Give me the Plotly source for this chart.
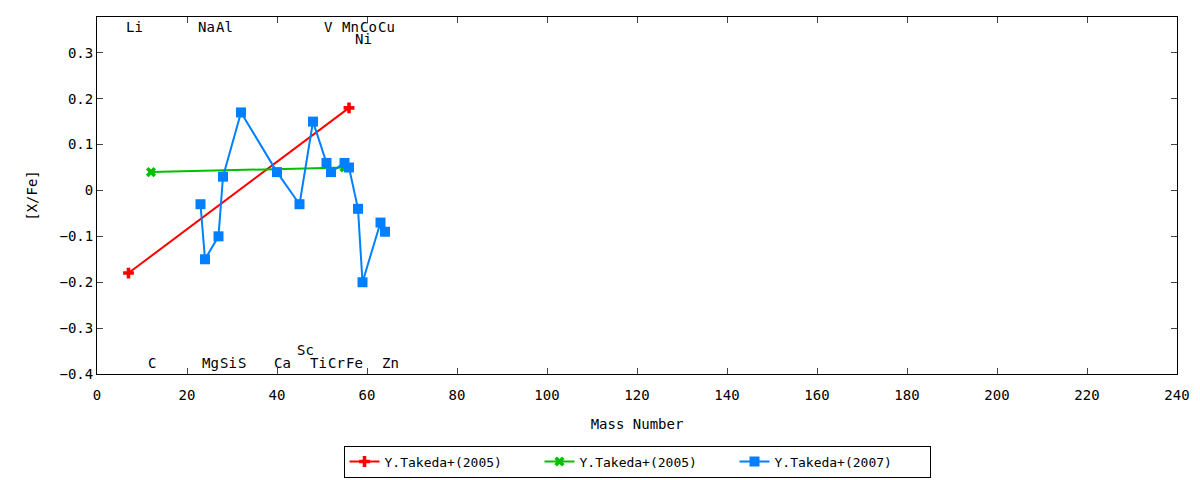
import plotly.graph_objects as go

# element abundances [X/Fe] vs mass number
red_mass = [7, 56]
red_xfe = [-0.18, 0.18]

green_mass = [12, 55]
green_xfe = [0.04, 0.05]

blue_mass = [23, 24, 27, 28, 32, 40, 45, 48, 51, 52, 55, 56, 58, 59, 63, 64]
blue_xfe = [-0.03, -0.15, -0.10, 0.03, 0.17, 0.04, -0.03, 0.15, 0.06, 0.04,
            0.06, 0.05, -0.04, -0.20, -0.07, -0.09]

# element labels (name, mass, row)
top_names = ["Li", "Na", "Al", "V", "Mn", "Co", "Cu", "Ni"]
top_mass = [7, 23, 27, 51, 55, 59, 63, 58]
top_y = [0.356, 0.356, 0.356, 0.356, 0.356, 0.356, 0.356, 0.331]

bot_names = ["C", "Mg", "Si", "S", "Ca", "Sc", "Ti", "Cr", "Fe", "Zn"]
bot_mass = [12, 24, 28, 32, 40, 45, 48, 52, 56, 64]
bot_y = [-0.377, -0.377, -0.377, -0.377, -0.377, -0.347, -0.377, -0.377, -0.377, -0.377]

FONT = "DejaVu Sans Mono"

fig = go.Figure()
fig.add_trace(go.Scatter(x=red_mass, y=red_xfe, mode="lines+markers",
                         name="Y.Takeda+(2005)",
                         line=dict(color="#ff0000", width=2),
                         marker=dict(symbol="cross", size=9, color="#ff0000")))
fig.add_trace(go.Scatter(x=green_mass, y=green_xfe, mode="lines+markers",
                         name="Y.Takeda+(2005)",
                         line=dict(color="#00c000", width=2),
                         marker=dict(symbol="x", size=9, color="#00c000")))
fig.add_trace(go.Scatter(x=blue_mass, y=blue_xfe, mode="lines+markers",
                         name="Y.Takeda+(2007)",
                         line=dict(color="#0080ff", width=2),
                         marker=dict(symbol="square", size=10, color="#0080ff")))

for n, m, yy in zip(top_names + bot_names, top_mass + bot_mass, top_y + bot_y):
    fig.add_annotation(x=m, y=yy, text=n, showarrow=False, xanchor="left",
                       xshift=-5, font=dict(family=FONT, size=14, color="black"))

fig.update_xaxes(range=[0, 240], dtick=20, ticks="inside", ticklen=6,
                 showline=True, linecolor="black", linewidth=1, mirror="ticks",
                 showgrid=False, zeroline=False, tickfont=dict(size=14),
                 automargin=False, ticklabelstandoff=8,
                 title=dict(text="Mass Number", standoff=17, font=dict(size=14)))
fig.update_yaxes(range=[-0.4, 0.378], dtick=0.1, ticks="inside", ticklen=6,
                 showline=True, linecolor="black", linewidth=1, mirror="ticks",
                 showgrid=False, zeroline=False, tickfont=dict(size=14),
                 automargin=False,
                 title=dict(text="[X/Fe]", standoff=18, font=dict(size=14)))

fig.update_layout(
    width=1200, height=480,
    margin=dict(l=97, r=23, t=17, b=106, autoexpand=False),
    plot_bgcolor="white", paper_bgcolor="white",
    font=dict(family=FONT, size=14, color="black"),
    legend=dict(orientation="h", x=0.5, xanchor="center", y=-0.29, yanchor="bottom",
                bordercolor="black", borderwidth=1, font=dict(size=13),
                entrywidth=150, tracegroupgap=0),
)

fig.write_html("out.html", config={"displayModeBar": False},
               post_script="document.body.style.margin='0';")
